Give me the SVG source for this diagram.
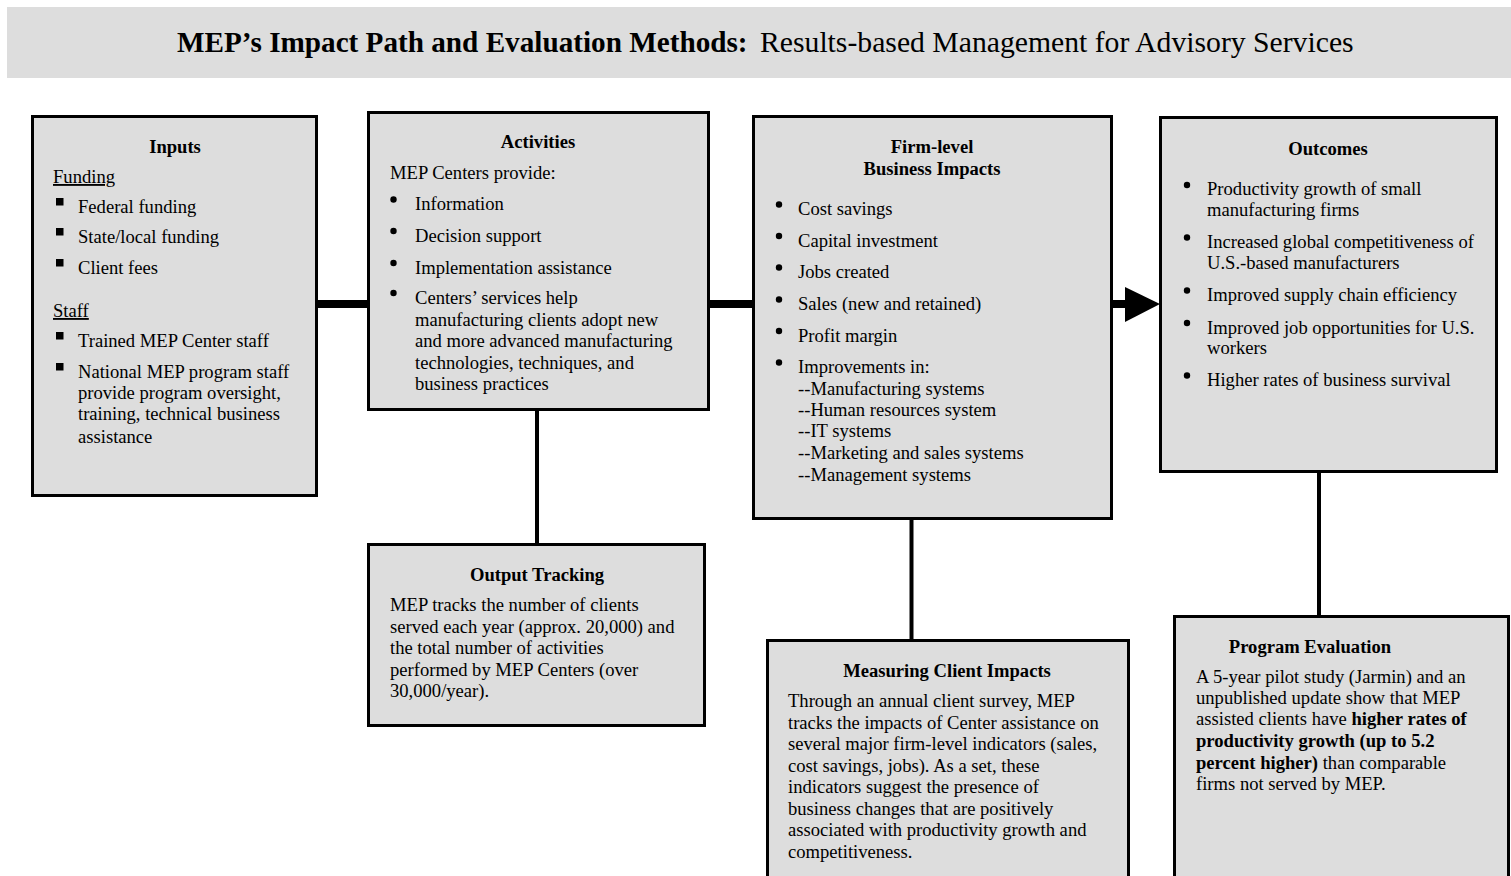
<svg xmlns="http://www.w3.org/2000/svg" width="1511" height="876" viewBox="0 0 1511 876">
<style>
.box{fill:#dddddd;stroke:#000;stroke-width:3}
.t{font-family:"Liberation Serif","Times New Roman",serif;font-size:18.6px;fill:#000}
.h{font-weight:bold;text-anchor:middle}
.b{font-weight:bold}
.u{text-decoration:underline}
.conn{stroke:#000;fill:none}
.thick{stroke-width:8}
.thin{stroke-width:4}
</style>
<rect width="1511" height="876" fill="#ffffff"/>
<g id="title">
<rect x="7" y="7" width="1504" height="71" fill="#dddddd"/>
<text class="t" y="52" style="font-size:29.7px"><tspan x="177" font-weight="bold" style="font-size:29.2px">MEP’s Impact Path and Evaluation Methods:</tspan><tspan x="760">Results-based Management for Advisory Services</tspan></text>
</g>
<g id="connectors">
<line class="conn thick" x1="317" y1="304" x2="369" y2="304"/>
<line class="conn thick" x1="709" y1="304" x2="753" y2="304"/>
<line class="conn thick" x1="1112" y1="304" x2="1127" y2="304"/>
<polygon points="1125,287 1160,304 1125,322" fill="#000"/>
<line class="conn thin" x1="537" y1="410" x2="537" y2="544"/>
<line class="conn thin" x1="911.5" y1="518" x2="911.5" y2="640"/>
<line class="conn thin" x1="1319" y1="472" x2="1319" y2="617"/>
</g>
<g id="inputs">
<rect class="box" x="32.5" y="116.5" width="284" height="379"/>
<text class="t h" x="175" y="153">Inputs</text>
<text class="t u" x="53" y="183">Funding</text>
<rect x="56" y="198" width="7.5" height="7.5"/>
<text class="t" x="78" y="213">Federal funding</text>
<rect x="56" y="228" width="7.5" height="7.5"/>
<text class="t" x="78" y="243">State/local funding</text>
<rect x="56" y="259" width="7.5" height="7.5"/>
<text class="t" x="78" y="274">Client fees</text>
<text class="t u" x="53" y="317">Staff</text>
<rect x="56" y="332" width="7.5" height="7.5"/>
<text class="t" x="78" y="347">Trained MEP Center staff</text>
<rect x="56" y="363" width="7.5" height="7.5"/>
<text class="t" x="78" y="378">National MEP program staff</text>
<text class="t" x="78" y="399">provide program oversight,</text>
<text class="t" x="78" y="420">training, technical business</text>
<text class="t" x="78" y="443">assistance</text>
</g>
<g id="activities">
<rect class="box" x="368.5" y="112.5" width="340" height="297"/>
<text class="t h" x="538" y="148">Activities</text>
<text class="t" x="390" y="179">MEP Centers provide:</text>
<circle cx="393.5" cy="199.5" r="3.2"/>
<text class="t" x="415" y="210">Information</text>
<circle cx="393.5" cy="231" r="3.2"/>
<text class="t" x="415" y="242">Decision support</text>
<circle cx="393.5" cy="263" r="3.2"/>
<text class="t" x="415" y="274">Implementation assistance</text>
<circle cx="393.5" cy="293" r="3.2"/>
<text class="t" x="415" y="304">Centers’ services help</text>
<text class="t" x="415" y="325.5">manufacturing clients adopt new</text>
<text class="t" x="415" y="347">and more advanced manufacturing</text>
<text class="t" x="415" y="368.5">technologies, techniques, and</text>
<text class="t" x="415" y="390">business practices</text>
</g>
<g id="output-tracking">
<rect class="box" x="368.5" y="544.5" width="336" height="181"/>
<text class="t h" x="537" y="581">Output Tracking</text>
<text class="t" x="390" y="611">MEP tracks the number of clients</text>
<text class="t" x="390" y="632.5">served each year (approx. 20,000) and</text>
<text class="t" x="390" y="654">the total number of activities</text>
<text class="t" x="390" y="675.5">performed by MEP Centers (over</text>
<text class="t" x="390" y="697">30,000/year).</text>
</g>
<g id="firm-impacts">
<rect class="box" x="753.5" y="116.5" width="358" height="402"/>
<text class="t h" x="932" y="153">Firm-level</text>
<text class="t h" x="932" y="175">Business Impacts</text>
<circle cx="779" cy="204.5" r="3.2"/>
<text class="t" x="798" y="215">Cost savings</text>
<circle cx="779" cy="236" r="3.2"/>
<text class="t" x="798" y="247">Capital investment</text>
<circle cx="779" cy="267.5" r="3.2"/>
<text class="t" x="798" y="278">Jobs created</text>
<circle cx="779" cy="299.5" r="3.2"/>
<text class="t" x="798" y="310">Sales (new and retained)</text>
<circle cx="779" cy="331" r="3.2"/>
<text class="t" x="798" y="342">Profit margin</text>
<circle cx="779" cy="362.5" r="3.2"/>
<text class="t" x="798" y="373">Improvements in:</text>
<text class="t" x="798" y="395">--Manufacturing systems</text>
<text class="t" x="798" y="416">--Human resources system</text>
<text class="t" x="798" y="437">--IT systems</text>
<text class="t" x="798" y="459">--Marketing and sales systems</text>
<text class="t" x="798" y="481">--Management systems</text>
</g>
<g id="outcomes">
<rect class="box" x="1160.5" y="117.5" width="336" height="354"/>
<text class="t h" x="1328" y="155">Outcomes</text>
<circle cx="1187" cy="185" r="3.2"/>
<text class="t" x="1207" y="195">Productivity growth of small</text>
<text class="t" x="1207" y="216">manufacturing firms</text>
<circle cx="1187" cy="237.5" r="3.2"/>
<text class="t" x="1207" y="248">Increased global competitiveness of</text>
<text class="t" x="1207" y="269">U.S.-based manufacturers</text>
<circle cx="1187" cy="290.5" r="3.2"/>
<text class="t" x="1207" y="301">Improved supply chain efficiency</text>
<circle cx="1187" cy="323" r="3.2"/>
<text class="t" x="1207" y="333.5">Improved job opportunities for U.S.</text>
<text class="t" x="1207" y="354">workers</text>
<circle cx="1187" cy="375.5" r="3.2"/>
<text class="t" x="1207" y="386">Higher rates of business survival</text>
</g>
<g id="measuring-client-impacts">
<rect class="box" x="767.5" y="640.5" width="361" height="260"/>
<text class="t h" x="947" y="677">Measuring Client Impacts</text>
<text class="t" x="788" y="707">Through an annual client survey, MEP</text>
<text class="t" x="788" y="728.5">tracks the impacts of Center assistance on</text>
<text class="t" x="788" y="750">several major firm-level indicators (sales,</text>
<text class="t" x="788" y="771.5">cost savings, jobs). As a set, these</text>
<text class="t" x="788" y="793">indicators suggest the presence of</text>
<text class="t" x="788" y="814.5">business changes that are positively</text>
<text class="t" x="788" y="836">associated with productivity growth and</text>
<text class="t" x="788" y="858">competitiveness.</text>
</g>
<g id="program-evaluation">
<rect class="box" x="1174.5" y="616.5" width="334" height="300"/>
<text class="t h" x="1310" y="653">Program Evaluation</text>
<text class="t" x="1196" y="683">A 5-year pilot study (Jarmin) and an</text>
<text class="t" x="1196" y="704">unpublished update show that MEP</text>
<text class="t" x="1196" y="725">assisted clients have <tspan class="b">higher rates of</tspan></text>
<text class="t b" x="1196" y="747">productivity growth (up to 5.2</text>
<text class="t" x="1196" y="768.5"><tspan class="b">percent higher)</tspan> than comparable</text>
<text class="t" x="1196" y="790">firms not served by MEP.</text>
</g>
</svg>
